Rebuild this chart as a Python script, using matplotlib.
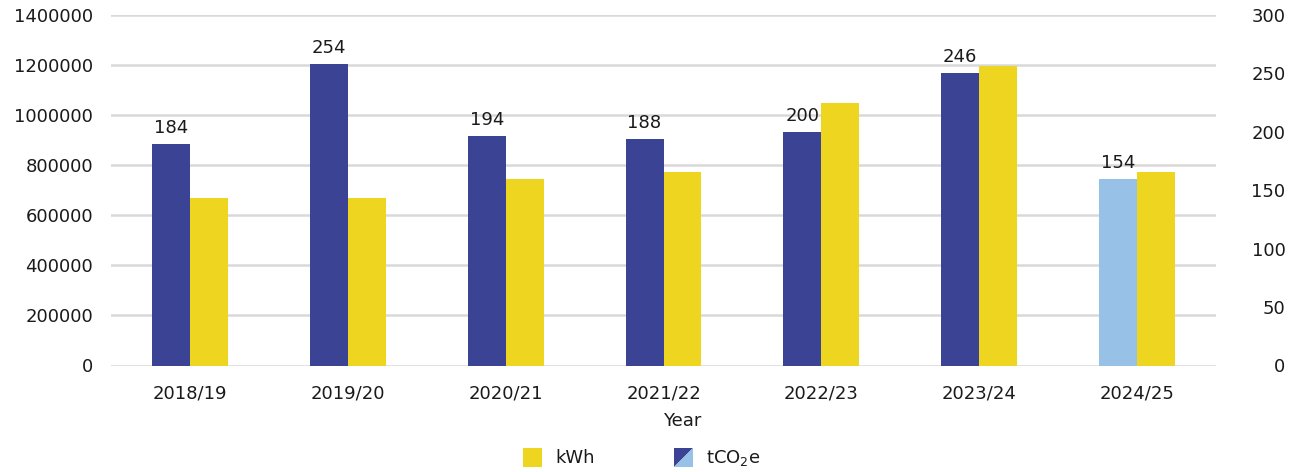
import matplotlib
matplotlib.use("Agg")
import matplotlib.pyplot as plt
import numpy as np
from matplotlib.patches import Polygon, Rectangle
from matplotlib.legend_handler import HandlerBase

years = ["2018/19", "2019/20", "2020/21", "2021/22", "2022/23", "2023/24", "2024/25"]
kwh = [670000, 670000, 746000, 774000, 1050000, 1198000, 774000]
tco2e_bars = [189.5, 258, 196.5, 194, 200, 250.5, 159.5]
tco2e_labels = ["184", "254", "194", "188", "200", "246", "154"]
left_ticks = [0, 200000, 400000, 600000, 800000, 1000000, 1200000, 1400000]
right_ticks = [0, 50, 100, 150, 200, 250, 300]

DARK = "#3B4494"
LIGHT = "#98C1E7"
YELLOW = "#EED620"
GRID = "#D9D9D9"
TXT = "#1a1a1a"
FS = 13

plt.rcParams['font.family'] = ['DejaVu Sans']
plt.rcParams['mathtext.default'] = 'regular'

fig = plt.figure(figsize=(13, 4.72), dpi=100)
ax = fig.add_axes([111/1300, 1-365.5/472, 1105/1300, 350.5/472])
ax2 = ax.twinx()

x = np.arange(len(years))
w = 0.24
ax.bar(x + w/2, kwh, width=w, color=YELLOW, zorder=3)
colors = [DARK]*(len(years)-1) + [LIGHT]
ax2.bar(x - w/2, tco2e_bars, width=w, color=colors, zorder=3)
for xi, h, lab in zip(x, tco2e_bars, tco2e_labels):
    ax2.annotate(lab, (xi - w/2, h), xytext=(0, 5), textcoords="offset points",
                 ha="center", va="bottom", fontsize=FS, color=TXT)

ax.set_xlim(-0.5, len(years)-0.5)
ax.set_ylim(0, 1400000)
ax2.set_ylim(0, 300)
ax.set_yticks(left_ticks)
ax.set_yticklabels([str(t) for t in left_ticks])
ax2.set_yticks(right_ticks)
ax2.set_yticklabels([str(t) for t in right_ticks])
ax.set_xticks(x)
ax.set_xticklabels(years)

ax.yaxis.grid(True, color=GRID, linewidth=1.8, zorder=0)
ax.set_axisbelow(True)
for a in (ax, ax2):
    for s in a.spines.values():
        s.set_visible(False)
ax.tick_params(axis='y', length=0, pad=13, labelsize=FS, labelcolor=TXT)
ax.tick_params(axis='x', length=0, pad=14, labelsize=FS, labelcolor=TXT)
ax2.tick_params(axis='y', length=0, pad=50, labelsize=FS, labelcolor=TXT)
for t in ax2.get_yticklabels():
    t.set_horizontalalignment('right')

fig.text(682/1300, 1-421/472, "Year", ha="center", va="center", fontsize=FS, color=TXT)


class SplitHandler(HandlerBase):
    def create_artists(self, legend, orig_handle, xdescent, ydescent, width, height, fontsize, trans):
        x0, y0 = -xdescent, -ydescent
        s = min(width, height)
        x0 = x0 + (width - s) / 2
        p1 = Polygon([[x0, y0], [x0, y0+s], [x0+s, y0+s]], closed=True, facecolor=DARK, edgecolor='none', transform=trans)
        p2 = Polygon([[x0, y0], [x0+s, y0], [x0+s, y0+s]], closed=True, facecolor=LIGHT, edgecolor='none', transform=trans)
        return [p1, p2]


class SquareHandler(HandlerBase):
    def create_artists(self, legend, orig_handle, xdescent, ydescent, width, height, fontsize, trans):
        x0, y0 = -xdescent, -ydescent
        s = min(width, height)
        x0 = x0 + (width - s) / 2
        r = Rectangle((x0, y0), s, s, facecolor=YELLOW, edgecolor='none', transform=trans)
        return [r]


h1 = Rectangle((0, 0), 1, 1)
h2 = Polygon([[0, 0], [1, 1], [0, 1]])
fig.legend([h1, h2], ["kWh", r"tCO$_{2}$e"],
           handler_map={type(h1): SquareHandler(), type(h2): SplitHandler()},
           loc="center", bbox_to_anchor=(641/1300, 1-458/472), ncol=2, frameon=False,
           fontsize=FS, handlelength=1.22, handleheight=1.22, columnspacing=4.3,
           handletextpad=0.65, labelcolor=TXT)

fig.savefig("out.png", dpi=100)
